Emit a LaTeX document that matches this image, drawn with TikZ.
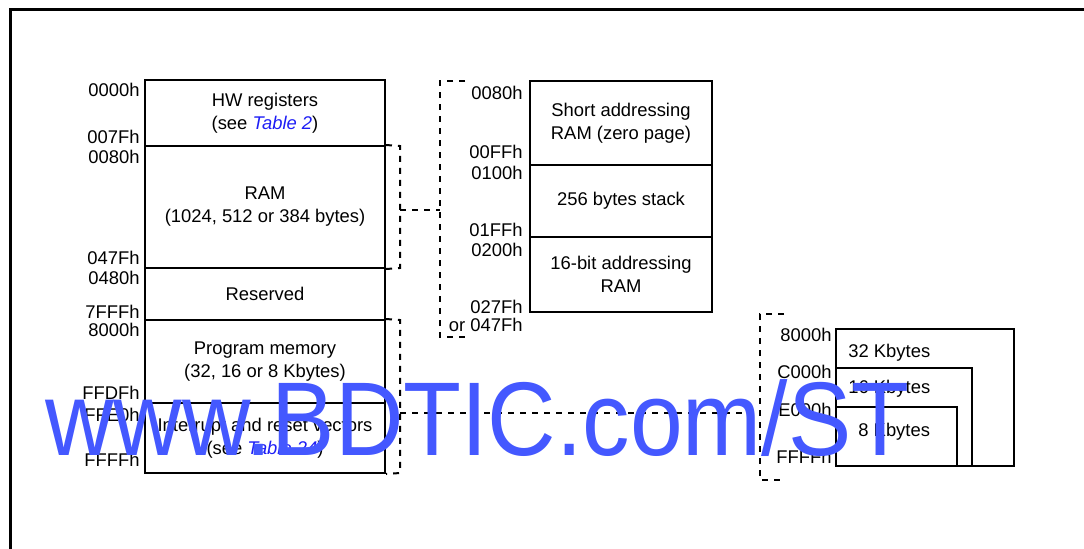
\documentclass[tikz,border=0pt]{standalone}
\usepackage{fontspec}
\setmainfont{Liberation Sans}
\definecolor{linkblue}{RGB}{30,30,245}
\definecolor{wmblue}{RGB}{68,88,255}
\begin{document}
\begin{tikzpicture}[x=0.5pt,y=-0.5pt,
  every node/.style={font=\fontsize{9.2}{11.5}\selectfont},
  membox/.style={draw,line width=1pt,rectangle,inner sep=0pt,align=center},
  addr/.style={anchor=base east,inner sep=0pt},
  lbl/.style={anchor=base west,inner sep=0pt},
  bracket/.style={draw,line width=1pt,dash pattern=on 3pt off 3pt},
  frameline/.style={line width=1.5pt}]
\useasboundingbox (0,0) rectangle (1084,548);
% frame
\coordinate (fbl) at (10,560);
\coordinate (ftl) at (10,9);
\coordinate (ftr) at (1090,9);
\draw[frameline] (fbl) -- (ftl) -- (ftr);
% left column
\node[membox,minimum width=120pt,minimum height=33pt] (hw) at (265,113) {HW registers\\(see \textcolor{linkblue}{\textit{Table 2}})};
\node[membox,minimum width=120pt,minimum height=61pt] (ram) at (265,207) {RAM\\(1024, 512 or 384 bytes)};
\node[membox,minimum width=120pt,minimum height=26pt] (res) at (265,294) {Reserved};
\node[membox,minimum width=120pt,minimum height=41.5pt] (prog) at (265,361.5) {Program memory\\(32, 16 or 8 Kbytes)};
\node[membox,minimum width=120pt,minimum height=35pt] (irq) at (265,438) {Interrupt and reset vectors\\(see \textcolor{linkblue}{\textit{Table 24}})};
\node[addr] (a1) at (140,96) {0000h};
\node[addr] (a2) at (140,143) {007Fh};
\node[addr] (a3) at (140,163) {0080h};
\node[addr] (a4) at (140,264) {047Fh};
\node[addr] (a5) at (140,284) {0480h};
\node[addr] (a6) at (140,318) {7FFFh};
\node[addr] (a7) at (140,336) {8000h};
\node[addr] (a8) at (140,399) {FFDFh};
\node[addr] (a9) at (140,421) {FFE0h};
\node[addr] (a10) at (140,466) {FFFFh};
% RAM detail
\node[membox,minimum width=91pt,minimum height=42pt] (zp) at (621,123) {Short addressing\\RAM (zero page)};
\node[membox,minimum width=91pt,minimum height=36pt] (stk) at (621,201) {256 bytes stack};
\node[membox,minimum width=91pt,minimum height=37.5pt] (r16) at (621,274.5) {16-bit addressing\\RAM};
\node[addr] (b1) at (523,99) {0080h};
\node[addr] (b2) at (523,158) {00FFh};
\node[addr] (b3) at (523,179) {0100h};
\node[addr] (b4) at (523,236) {01FFh};
\node[addr] (b5) at (523,256) {0200h};
\node[addr] (b6) at (523,313) {027Fh};
\node[addr] (b7) at (523,331) {or 047Fh};
% program memory detail
\node[membox,anchor=north west,minimum width=89pt,minimum height=68.5pt] (k32) at (835,328) {};
\node[membox,anchor=north west,minimum width=68pt,minimum height=49pt] (k16) at (835,367) {};
\node[membox,anchor=north west,minimum width=60.5pt,minimum height=29.5pt] (k8) at (835,406) {};
\node[lbl] (t32) at (848,357) {32 Kbytes};
\node[lbl] (t16) at (848,393) {16 Kbytes};
\node[lbl] (t8) at (858,436) {8 Kbytes};
\node[addr] (c1) at (832,341) {8000h};
\node[addr] (c2) at (832,378) {C000h};
\node[addr] (c3) at (832,416) {E000h};
\node[addr] (c4) at (832,463) {FFFFh};
% brackets
\coordinate (rb1) at (400,146);
\coordinate (rb2) at (400,268);
\coordinate (rtap) at (400,210);
\coordinate (zb1) at (465,81);
\coordinate (zb2) at (465,337);
\coordinate (ztap) at (440,210);
\draw[bracket] (ram.north east) -- (rb1) -- (rb2) -- (ram.south east);
\draw[bracket] (rtap) -- (ztap);
\draw[bracket] (zb1) -| (ztap) |- (zb2);
\coordinate (pb1) at (400,320);
\coordinate (pb2) at (400,473);
\coordinate (ptap) at (400,413);
\coordinate (kb1) at (784,314);
\coordinate (kb2) at (784,480);
\coordinate (ktap) at (760,413);
\draw[bracket] (prog.north east) -- (pb1) -- (pb2) -- (irq.south east);
\draw[bracket] (ptap) -- (ktap);
\draw[bracket] (kb1) -| (ktap) |- (kb2);
% watermark
\node[anchor=base west,inner sep=0pt,text=wmblue,font=\fontsize{52.4}{60}\selectfont,xscale=0.905] (wm) at (45,455) {www.BDTIC.com/ST};
\end{tikzpicture}
\end{document}
